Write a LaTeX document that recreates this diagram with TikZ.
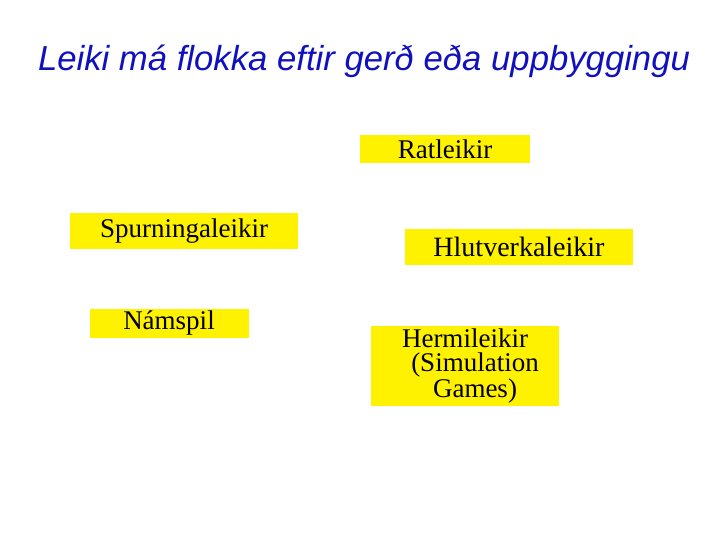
\documentclass[tikz,border=0pt]{standalone}
\usepackage{fontspec}
\setmainfont{Liberation Serif}
\newfontfamily\titlefont{Liberation Sans}
\usetikzlibrary{positioning}

\definecolor{titleblue}{RGB}{16,16,190}
\tikzset{
  leikur/.style={fill=yellow, inner sep=0pt, align=center,
    font=\fontsize{27}{24}\selectfont},
}

\begin{document}
\begin{tikzpicture}[x=1pt,y=-1pt]
  \useasboundingbox (0,0) rectangle (720,540);
  \node[anchor=base, text=titleblue, font=\titlefont\itshape\fontsize{34.7}{40}\selectfont]
    (titill) at (364,71) {Leiki má flokka eftir gerð eða uppbyggingu};

  \node[leikur, minimum width=170pt, minimum height=28pt] (rat) at (445,149) {Ratleikir};
  \node[leikur, minimum width=228pt, minimum height=35pt] (spurn) at (184,231) {Spurningaleikir};
  \node[leikur, minimum width=228pt, minimum height=35pt,
    font=\fontsize{28}{24}\selectfont] (hlut) at (519,247) {Hlutverkaleikir};
  \node[leikur, minimum width=159pt, minimum height=29pt] (nam) at (169,323) {Námspil};
  \node[leikur, minimum width=188pt, minimum height=80pt] (herm) at (465,366)
    {Hermileikir\\ \hspace*{20pt}(Simulation\\ \hspace*{20pt}Games)};
\end{tikzpicture}
\end{document}
